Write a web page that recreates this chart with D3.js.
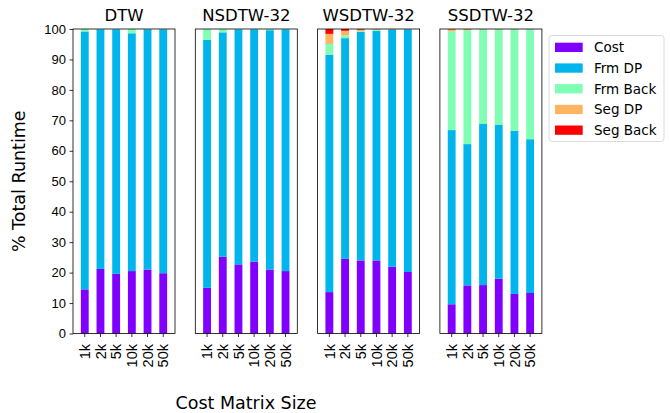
<!DOCTYPE html>
<html>
<head>
<meta charset="utf-8">
<script src="https://cdn.jsdelivr.net/npm/d3@7"></script>
<style>
  body { margin: 0; background: #fff; }
  svg { display: block; font-family: "DejaVu Sans", sans-serif; }
</style>
</head>
<body>
<svg id="chart" width="670" height="413"></svg>
<script>
// Runtime breakdown (% of total) per algorithm and cost matrix size
const methods = ["DTW", "NSDTW-32", "WSDTW-32", "SSDTW-32"];
const sizes = ["1k", "2k", "5k", "10k", "20k", "50k"];
const components = ["Cost", "Frm DP", "Frm Back", "Seg DP", "Seg Back"];
const colors = ["#8000ff", "#00b5eb", "#80ffb4", "#ffb462", "#ff0000"];
const yTicks = [0, 10, 20, 30, 40, 50, 60, 70, 80, 90, 100];

// one row per method, one value per size
const cost = [
  [14.5, 21.2, 19.6, 20.5, 21.0, 19.8],
  [15.0, 25.2, 22.7, 23.6, 21.0, 20.5],
  [13.6, 24.5, 24.0, 24.0, 21.9, 20.2],
  [9.6, 15.8, 15.9, 18.0, 13.0, 13.3]
];
const frmDP = [
  [84.7, 78.7, 80.3, 78.1, 78.9, 80.1],
  [81.4, 73.7, 77.2, 76.3, 78.6, 79.4],
  [77.9, 72.5, 75.1, 75.4, 77.9, 79.7],
  [57.2, 46.4, 52.9, 50.6, 53.6, 50.5]
];
const frmBack = [
  [0.8, 0.1, 0.1, 1.4, 0.1, 0.1],
  [3.6, 1.1, 0.1, 0.1, 0.4, 0.1],
  [3.6, 0.9, 0.2, 0.4, 0.1, 0.05],
  [32.4, 37.4, 31.1, 31.3, 33.3, 36.1]
];
const segDP = [
  [0, 0, 0, 0, 0, 0],
  [0, 0, 0, 0, 0, 0],
  [3.3, 1.5, 0.5, 0.15, 0.05, 0.03],
  [0.7, 0.3, 0.08, 0.08, 0.08, 0.08]
];
const segBack = [
  [0, 0, 0, 0, 0, 0],
  [0, 0, 0, 0, 0, 0],
  [1.6, 0.6, 0.2, 0.05, 0.05, 0.02],
  [0.1, 0.1, 0.02, 0.02, 0.02, 0.02]
];
const seriesByComponent = [cost, frmDP, frmBack, segDP, segBack];

const svg = d3.select("#chart");

const plotTop = 29, plotBottom = 333.5;
const panelW = 102, gap = 20.3, left0 = 73;

const y = d3.scaleLinear().domain([0, 100]).range([plotBottom, plotTop]);
const px = d3.scaleBand().domain(methods).range([left0, left0 + 4 * panelW + 3 * gap])
  .paddingInner(gap / (panelW + gap)).paddingOuter(0);

methods.forEach((m, mi) => {
  const x0 = px(m);
  const g = svg.append("g").attr("transform", `translate(${x0},0)`);
  const x = d3.scaleBand().domain(sizes).range([0, px.bandwidth()]).padding(0.5);

  const rows = sizes.map((s, si) => {
    const r = { size: s };
    components.forEach((c, ci) => r[c] = seriesByComponent[ci][mi][si]);
    return r;
  });
  const stacked = d3.stack().keys(components)(rows);

  g.selectAll("g.layer").data(stacked).join("g")
    .attr("class", "layer")
    .attr("fill", (d, i) => colors[i])
    .selectAll("rect").data(d => d).join("rect")
    .attr("x", d => x(d.data.size))
    .attr("width", x.bandwidth())
    .attr("y", d => y(d[1]))
    .attr("height", d => y(d[0]) - y(d[1]));

  // x axis with rotated size labels
  const xa = g.append("g").attr("transform", `translate(0,${plotBottom})`)
    .call(d3.axisBottom(x).tickSize(3.5).tickPadding(3.5));
  xa.select(".domain").remove();
  xa.selectAll("line").attr("stroke", "#000").attr("stroke-width", 0.8);
  xa.selectAll("text")
    .attr("font-size", 14.5).attr("fill", "#000")
    .attr("transform", "rotate(-90)")
    .attr("text-anchor", "end")
    .attr("x", -10.5).attr("y", 0).attr("dy", "0.36em");

  if (mi === 0) {
    const ya = g.append("g")
      .call(d3.axisLeft(y).tickValues(yTicks).tickSize(3.5).tickPadding(3.5));
    ya.select(".domain").remove();
    ya.selectAll("line").attr("stroke", "#000").attr("stroke-width", 0.8);
    ya.selectAll("text").attr("font-size", 13).attr("fill", "#000");
  }

  // panel frame
  g.append("rect")
    .attr("x", 0).attr("y", plotTop)
    .attr("width", px.bandwidth()).attr("height", plotBottom - plotTop)
    .attr("fill", "none").attr("stroke", "#000").attr("stroke-width", 0.8);

  g.append("text")
    .attr("x", px.bandwidth() / 2).attr("y", 21)
    .attr("text-anchor", "middle").attr("font-size", 16.5).attr("fill", "#000")
    .text(m);
});

// axis titles
svg.append("text")
  .attr("transform", `translate(25,${(plotTop + plotBottom) / 2}) rotate(-90)`)
  .attr("text-anchor", "middle").attr("font-size", 17.5).attr("fill", "#000")
  .text("% Total Runtime");

svg.append("text")
  .attr("x", 246).attr("y", 409)
  .attr("text-anchor", "middle").attr("font-size", 17.5).attr("fill", "#000")
  .text("Cost Matrix Size");

// legend
const lg = svg.append("g").attr("transform", "translate(549,35.5)");
lg.append("rect")
  .attr("width", 115).attr("height", 106).attr("rx", 3)
  .attr("fill", "#fff").attr("fill-opacity", 0.8)
  .attr("stroke", "#d0d0d0").attr("stroke-width", 0.8);
components.forEach((c, i) => {
  const row = lg.append("g").attr("transform", `translate(0,${7.2 + i * 20.7})`);
  row.append("rect").attr("x", 6).attr("y", 0).attr("width", 27.7).attr("height", 9.3)
    .attr("fill", colors[i]);
  row.append("text").attr("x", 45).attr("y", 4.7).attr("dy", "0.35em")
    .attr("font-size", 13.5).attr("fill", "#000").text(c);
});
</script>
</body>
</html>
